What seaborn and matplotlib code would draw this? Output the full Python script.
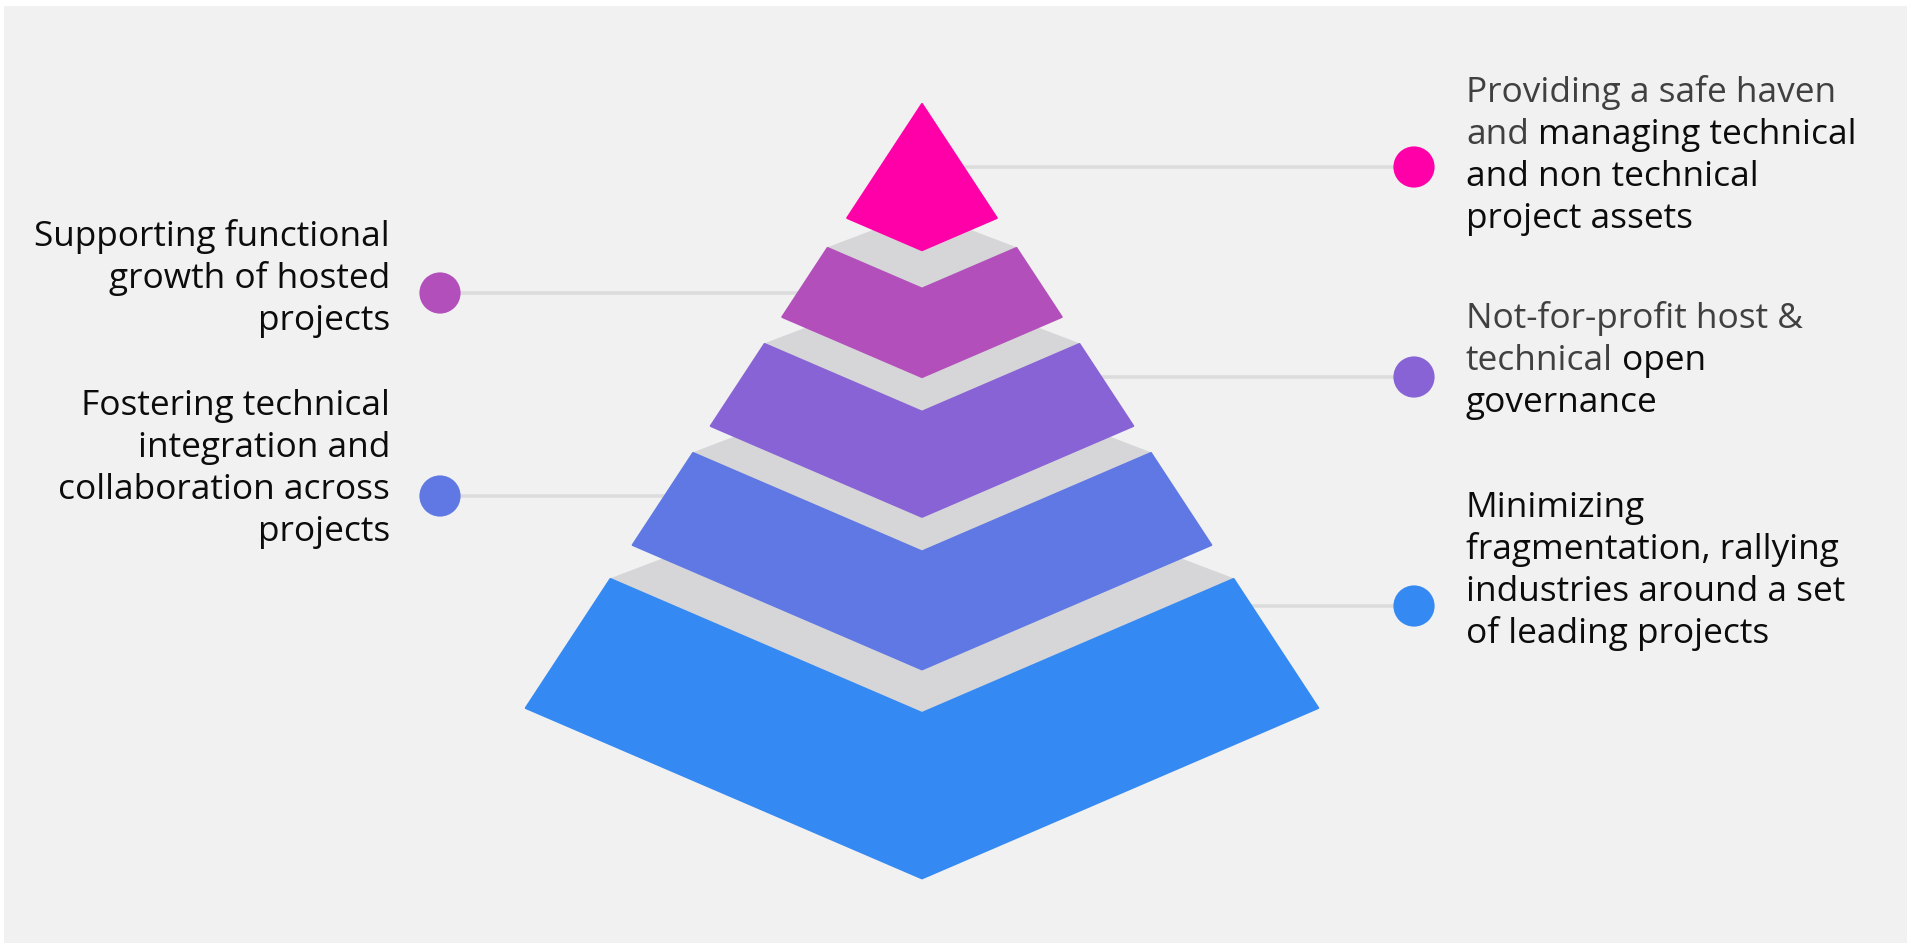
import matplotlib
matplotlib.use("Agg")
import matplotlib.pyplot as plt
import seaborn as sns
import pandas as pd
from matplotlib.patches import Polygon, Rectangle

# ---------------- data ----------------
tiers = ["Safe haven & assets", "Functional growth", "Open governance",
         "Technical integration", "Minimizing fragmentation"]
tier_colors = ["#ff00a8", "#b24fbb", "#8763d5", "#5f78e3", "#3589f3"]
tier_top_y = [104, 248, 344, 453, 579]
tier_bottom_y = [218, 317, 426, 545, 708]
label_side = ["right", "left", "right", "left", "right"]
connector_y = [167, 293, 377, 496, 606]
first_baseline = [102, 246, 328, 415, 517]

GRAY_TXT = "#404040"
BLACK_TXT = "#0c0c0c"
label_lines = [
    [[("Providing a safe haven", GRAY_TXT)],
     [("and", GRAY_TXT), ("managing technical", BLACK_TXT)],
     [("and non technical", BLACK_TXT)],
     [("project assets", BLACK_TXT)]],
    [[("Supporting functional", BLACK_TXT)],
     [("growth of hosted", BLACK_TXT)],
     [("projects", BLACK_TXT)]],
    [[("Not-for-profit host &", GRAY_TXT)],
     [("technical", GRAY_TXT), ("open", BLACK_TXT)],
     [("governance", BLACK_TXT)]],
    [[("Fostering technical", BLACK_TXT)],
     [("integration and", BLACK_TXT)],
     [("collaboration across", BLACK_TXT)],
     [("projects", BLACK_TXT)]],
    [[("Minimizing", BLACK_TXT)],
     [("fragmentation, rallying", BLACK_TXT)],
     [("industries around a set", BLACK_TXT)],
     [("of leading projects", BLACK_TXT)]],
]

# ---------------- layout constants ----------------
W, H = 1908, 943
CX, APEX_Y = 922, 104
EDGE = 0.656        # half-width growth per pixel of height
FRONT_K = 0.43      # depth of the front "V"
BACK_K = 0.38       # depth of the back of the top face
DOT_X = {"left": 440, "right": 1414}
TEXT_X = {"left": 390, "right": 1466}
LINE_STEP = 42
BG = "#f1f1f1"
TOPFACE = "#d6d6d8"
CONNECTOR = "#dcdcdc"

sns.set_theme(style="white")
plt.rcParams["font.family"] = ["Open Sans", "DejaVu Sans"]

fig = plt.figure(figsize=(W / 100, H / 100), dpi=100, facecolor="white")
ax = fig.add_axes([0, 0, 1, 1])
ax.set_xlim(0, W)
ax.set_ylim(H, 0)
ax.axis("off")

ax.add_patch(Rectangle((4, 6), W - 4, H - 6, facecolor=BG, edgecolor="none", zorder=0))


def half_width(y):
    return (y - APEX_Y) * EDGE


# connectors (behind the pyramid)
for side, y in zip(label_side, connector_y):
    ax.plot([DOT_X[side], CX], [y, y], color=CONNECTOR, lw=2.6,
            solid_capstyle="butt", zorder=1)

# pyramid tiers, from bottom to top so upper tiers cover lower top faces
for i in reversed(range(len(tiers))):
    top, bot = tier_top_y[i], tier_bottom_y[i]
    wt, wb = half_width(top), half_width(bot)
    z = 2 + (len(tiers) - i) * 2
    if wt > 0:
        face = [(CX - wt, top), (CX, top - BACK_K * wt), (CX + wt, top), (CX, top + FRONT_K * wt)]
        ax.add_patch(Polygon(face, closed=True, facecolor=TOPFACE, edgecolor=TOPFACE,
                             lw=1.0, joinstyle="round", zorder=z))
    front = [(CX - wt, top), (CX, top + FRONT_K * wt), (CX + wt, top),
             (CX + wb, bot), (CX, bot + FRONT_K * wb), (CX - wb, bot)]
    ax.add_patch(Polygon(front, closed=True, facecolor=tier_colors[i],
                         edgecolor=tier_colors[i], lw=1.5, joinstyle="round", zorder=z + 1))

# dots
dots = pd.DataFrame({
    "tier": tiers,
    "x": [DOT_X[s] for s in label_side],
    "y": connector_y,
})
sns.scatterplot(data=dots, x="x", y="y", hue="tier", palette=tier_colors,
                s=880, linewidth=0, legend=False, ax=ax, zorder=20)
ax.set_xlim(0, W)
ax.set_ylim(H, 0)
ax.axis("off")

# labels
FS = 25.4
SPACE_PX = 9.2
for i, lines in enumerate(label_lines):
    side = label_side[i]
    for j, segs in enumerate(lines):
        yb = first_baseline[i] + j * LINE_STEP
        if side == "left":
            txt = " ".join(s for s, _ in segs)
            ax.text(TEXT_X[side], yb, txt, ha="right", va="baseline",
                    fontsize=FS, color=segs[0][1], zorder=30)
        else:
            t = ax.text(TEXT_X[side], yb, segs[0][0], ha="left", va="baseline",
                        fontsize=FS, color=segs[0][1], zorder=30)
            for s, c in segs[1:]:
                t = ax.annotate(s, xy=(1, 0), xycoords=t, xytext=(SPACE_PX, 0),
                                textcoords="offset pixels", ha="left", va="bottom",
                                fontsize=FS, color=c, zorder=30)

fig.savefig("out.png", dpi=100, facecolor="white")
